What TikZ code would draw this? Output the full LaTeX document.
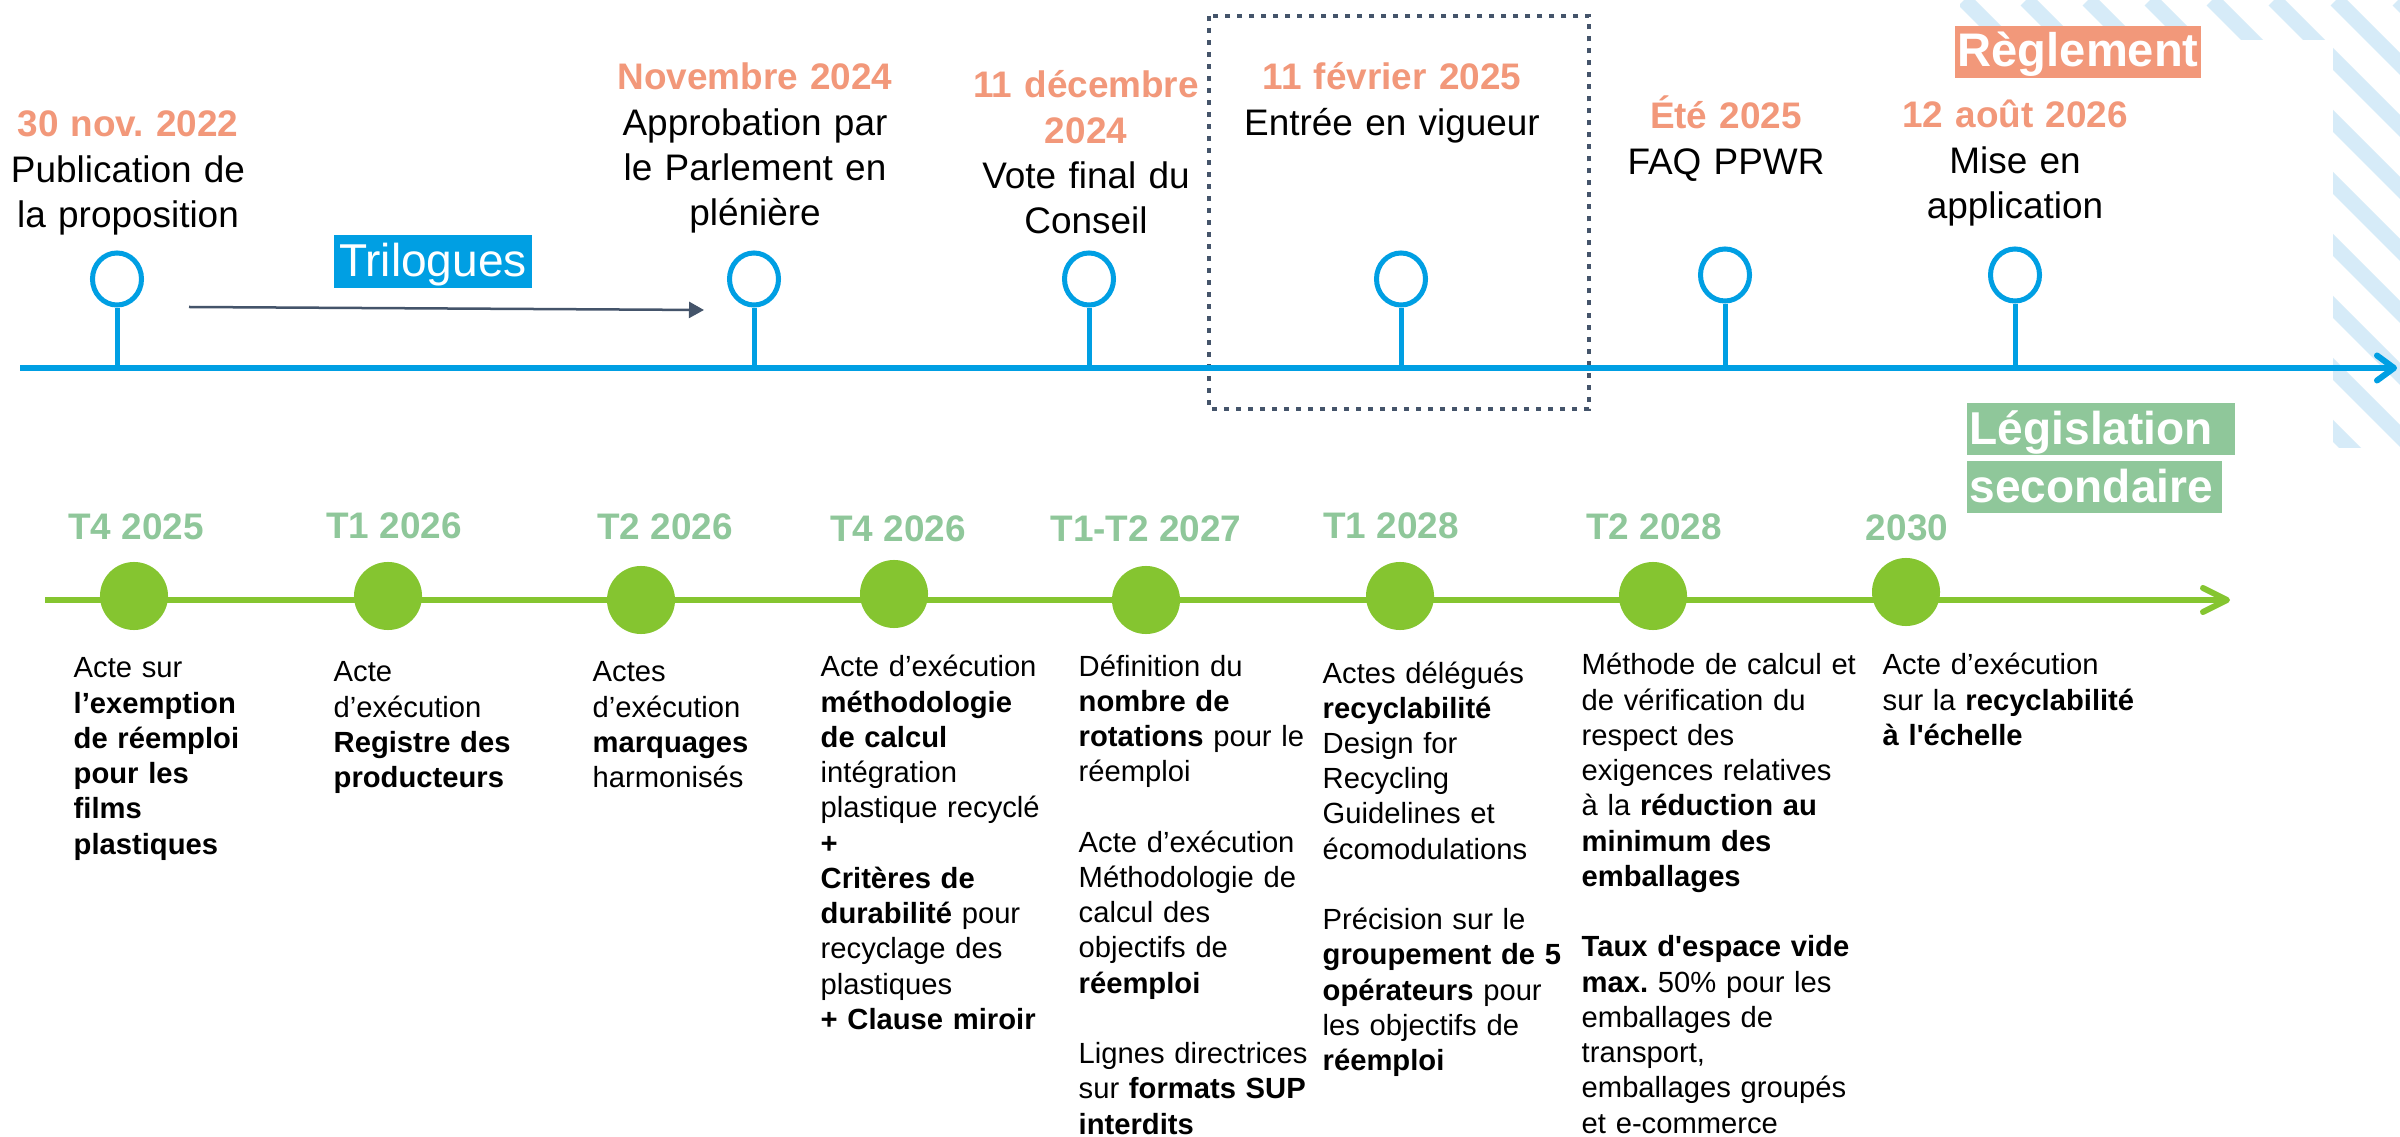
\documentclass[tikz,border=0pt]{standalone}
\usepackage{fontspec}
\setmainfont{Liberation Sans}[Ligatures=TeXOff]
\usetikzlibrary{arrows.meta,shapes.geometric}
\definecolor{salmon}{HTML}{F2987A}
\definecolor{tlblue}{HTML}{009FE3}
\definecolor{tlgreen}{HTML}{85C530}
\definecolor{lblgreen}{HTML}{8FC79A}
\definecolor{slate}{HTML}{44546A}
\definecolor{stripeblue}{HTML}{D6EBF8}
\frenchspacing
\begin{document}
\begin{tikzpicture}[x=0.01cm,y=-0.01cm,
  toplbl/.style={anchor=base, text width=3.6cm, align=center, inner sep=0pt, font=\fontsize{10.5pt}{12.8pt}\selectfont},
  qlbl/.style={anchor=base, inner sep=0pt, text=lblgreen, font=\fontsize{10.5pt}{12.8pt}\selectfont\bfseries},
  desc/.style={anchor=base west, text width=3.1cm, align=left, inner sep=0pt, font=\fontsize{8.3pt}{10.02pt}\selectfont},
  pin/.style={ellipse, draw=tlblue, line width=0.5mm, minimum width=4.9mm, minimum height=5.2mm, inner sep=0pt, fill=white},
  stem/.style={draw=tlblue, line width=0.5mm},
  gdot/.style={circle, fill=tlgreen, minimum size=6.8mm, inner sep=0pt},
  stripe/.style={draw=stripeblue, line width=1.55mm},
  hlbox/.style={text=white, inner ysep=0pt, inner xsep=0.3mm, align=left},
]
\useasboundingbox (0,0) rectangle (2400,1137);
\fill[white] (0,0) rectangle (2400,1137);

% striped background corner
\begin{scope}
  \clip (1960,0) rectangle (2400,40) (2333,0) rectangle (2400,448);
  \foreach \c in {1716,1778,...,2460} {
    \draw[stripe] (\c,0) -- ++(700,700);
  }
\end{scope}

% dotted highlight
\draw[slate, line width=0.45mm, dash pattern=on 0.5mm off 0.7mm] (1209,16) rectangle (1589,409);

% top timeline
\coordinate (tlS) at (20,368);
\coordinate (tlE) at (2397,368);
\draw[tlblue, line width=0.6mm, -{Straight Barb[length=1.7mm,width=2.5mm,round]}] (tlS) -- (tlE);

\foreach \n/\x/\y in {1/117/279, 2/754/279, 3/1089/279, 4/1401/279, 5/1725/275, 6/2015/275} {
  \coordinate (a\n) at (\x,368);
  \node[pin] (p\n) at (\x,\y) {};
  \draw[stem] (p\n) -- (a\n);
}

% top labels
\node[toplbl] (t1) at (128,137) {\textcolor{salmon}{\bfseries 30 nov. 2022}\\ Publication de\\ la proposition};
\node[toplbl] (t2) at (755,90) {\textcolor{salmon}{\bfseries Novembre 2024}\\ Approbation par\\ le Parlement en\\ plénière};
\node[toplbl] (t3) at (1086,98) {\textcolor{salmon}{\bfseries 11 décembre}\\ \textcolor{salmon}{\bfseries 2024}\\ Vote final du\\ Conseil};
\node[toplbl] (t4) at (1392,90) {\textcolor{salmon}{\bfseries 11 février 2025}\\ Entrée en vigueur};
\node[toplbl] (t5) at (1726,129) {\textcolor{salmon}{\bfseries Été 2025}\\ FAQ PPWR};
\node[toplbl] (t6) at (2015,128) {\textcolor{salmon}{\bfseries 12 août 2026}\\ Mise en\\ application};

% Trilogues
\node[fill=tlblue, text=white, anchor=base, inner sep=0pt, minimum width=1.98cm,
      text height=4.2mm, text depth=1.1mm, font=\fontsize{13.1pt}{15pt}\selectfont] (tri) at (433,277) {Trilogues};
\coordinate (triS) at (189,307);
\coordinate (triE) at (704,310);
\draw[slate, line width=0.25mm, -{Triangle[length=1.5mm,width=1.6mm]}] (triS) -- (triE);

% Reglement box
\node[fill=salmon, hlbox, anchor=base west, text width=2.40cm, text height=4.1mm, text depth=1.1mm,
      font=\fontsize{13.4pt}{15pt}\selectfont\bfseries] (regl) at (1954,67) {Règlement};

% Legislation secondaire boxes
\node[fill=lblgreen, hlbox, anchor=base west, text width=2.62cm, text height=4.2mm, text depth=1.0mm,
      font=\fontsize{13.1pt}{15pt}\selectfont\bfseries] (leg1) at (1966,445) {Législation};
\node[fill=lblgreen, hlbox, anchor=base west, text width=2.49cm, text height=4.2mm, text depth=1.0mm,
      font=\fontsize{13.1pt}{15pt}\selectfont\bfseries] (leg2) at (1966,503) {secondaire};

% bottom timeline
\coordinate (glS) at (45,600);
\coordinate (glE) at (2230,600);
\draw[tlgreen, line width=0.6mm, -{Straight Barb[length=2.4mm,width=2.4mm,round]}] (glS) -- (glE);

\foreach \n/\x/\y in {1/134/596, 2/388/596, 3/641/600, 4/894/594, 5/1146/600, 6/1400/596, 7/1653/596, 8/1906/592} {
  \node[gdot] (d\n) at (\x,\y) {};
}

% quarter labels
\node[qlbl] (q1) at (136,540) {T4 2025};
\node[qlbl] (q2) at (394,539) {T1 2026};
\node[qlbl] (q3) at (665,540) {T2 2026};
\node[qlbl] (q4) at (898,542) {T4 2026};
\node[qlbl] (q5) at (1146,542) {T1-T2 2027};
\node[qlbl] (q6) at (1391,539) {T1 2028};
\node[qlbl] (q7) at (1654,540) {T2 2028};
\node[qlbl] (q8) at (1907,541) {2030};

% descriptions
\node[desc] (b1) at (73,678) {Acte sur\\ \textbf{l’exemption}\\ \textbf{de réemploi}\\ \textbf{pour les}\\ \textbf{films}\\ \textbf{plastiques}};
\node[desc] (b2) at (333,682) {Acte\\ d’exécution\\ \textbf{Registre des}\\ \textbf{producteurs}};
\node[desc] (b3) at (592,682) {Actes\\ d’exécution\\ \textbf{marquages}\\ harmonisés};
\node[desc] (b4) at (820,677) {Acte d’exécution\\ \textbf{méthodologie}\\ \textbf{de calcul}\\ intégration\\ plastique recyclé\\ \textbf{+}\\ \textbf{Critères de}\\ \textbf{durabilité} pour\\ recyclage des\\ plastiques\\ \textbf{+ Clause miroir}};
\node[desc] (b5) at (1078,676) {Définition du\\ \textbf{nombre de}\\ \textbf{rotations} pour le\\ réemploi\\[\baselineskip] Acte d’exécution\\ Méthodologie de\\ calcul des\\ objectifs de\\ \textbf{réemploi}\\[\baselineskip] Lignes directrices\\ sur \textbf{formats SUP}\\ \textbf{interdits}};
\node[desc] (b6) at (1322,683) {Actes délégués\\ \textbf{recyclabilité}\\ Design for\\ Recycling\\ Guidelines et\\ écomodulations\\[\baselineskip] Précision sur le\\ \textbf{groupement de 5}\\ \textbf{opérateurs} pour\\ les objectifs de\\ \textbf{réemploi}};
\node[desc] (b7) at (1581,675) {Méthode de calcul et\\ de vérification du\\ respect des\\ exigences relatives\\ à la \textbf{réduction au}\\ \textbf{minimum des}\\ \textbf{emballages}\\[\baselineskip] \textbf{Taux d'espace vide}\\ \textbf{max.} 50\% pour les\\ emballages de\\ transport,\\ emballages groupés\\ et e-commerce};
\node[desc] (b8) at (1882,675) {Acte d’exécution\\ sur la \textbf{recyclabilité}\\ \textbf{à l'échelle}};
\end{tikzpicture}
\end{document}
